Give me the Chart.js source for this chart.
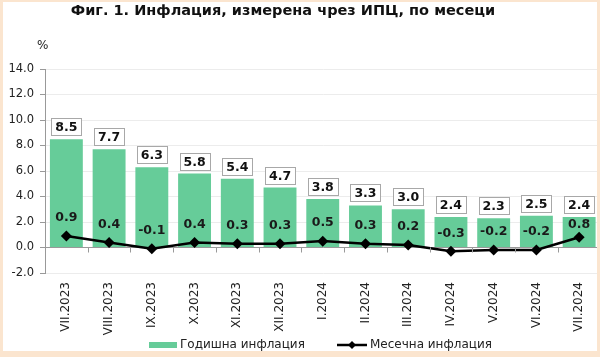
<!DOCTYPE html>
<html>
<head>
<meta charset="utf-8">
<script src="https://cdn.jsdelivr.net/npm/chart.js@4"></script>
<style>
  html, body { margin: 0; padding: 0; background: #fff; }
  #wrap { position: relative; width: 600px; height: 357px; overflow: hidden; background: #fff; }
  #c { position: absolute; left: 0; top: 0; }
  #title { position: absolute; left: 0; top: 2px; width: 566px; text-align: center;
           font: bold 14.5px "DejaVu Sans", Verdana, sans-serif; color: #111; line-height: 17px; }
  #pct { position: absolute; left: 37px; top: 38px; font: 12px "DejaVu Sans", sans-serif; color: #222; }
  #frame { position: absolute; left: 0; top: 0; width: 600px; height: 357px; box-sizing: border-box;
           border-left: 3px solid #FBE5CF; border-right: 3px solid #FBE5CF;
           border-top: 2px solid #FBE5CF; border-bottom: 6px solid #FBE5CF; pointer-events: none; }
</style>
</head>
<body>
<div id="wrap">
  <canvas id="c" width="606" height="357"></canvas>
  <div id="title">Фиг. 1. Инфлация, измерена чрез ИПЦ, по месеци</div>
  <div id="pct">%</div>
  <div id="frame"></div>
</div>
<script>
const categories = ["VII.2023","VIII.2023","IX.2023","X.2023","XI.2023","XII.2023","I.2024","II.2024","III.2024","IV.2024","V.2024","VI.2024","VII.2024"];
const annualInflation = [8.5, 7.7, 6.3, 5.8, 5.4, 4.7, 3.8, 3.3, 3.0, 2.4, 2.3, 2.5, 2.4];
const monthlyInflation = [0.9, 0.4, -0.1, 0.4, 0.3, 0.3, 0.5, 0.3, 0.2, -0.3, -0.2, -0.2, 0.8];
const seriesNames = ["Годишна инфлация", "Месечна инфлация"];
const yTicks = { min: -2, max: 14, step: 2 };

const GREEN = '#66CC99';
const FONT = '"DejaVu Sans", Verdana, sans-serif';

const labelPlugin = {
  id: 'labels',
  afterDatasetsDraw(chart) {
    const ctx = chart.ctx;
    const area = chart.chartArea;
    const y0 = chart.scales.y.getPixelForValue(0);
    const n = categories.length;
    const w = (area.right - area.left) / n;
    ctx.save();
    ctx.strokeStyle = '#999';
    ctx.lineWidth = 1;
    for (let i = 1; i < n; i++) {
      const x = Math.round(area.left + i * w) + 0.5;
      ctx.beginPath(); ctx.moveTo(x, y0); ctx.lineTo(x, y0 + 5); ctx.stroke();
    }
    const barMeta = chart.getDatasetMeta(1);
    ctx.font = 'bold 12.5px ' + FONT;
    ctx.textAlign = 'center';
    ctx.textBaseline = 'middle';
    barMeta.data.forEach((el, i) => {
      const bx = el.x, by = el.y;
      const bw = 30, bh = 17;
      const top = Math.round(by - 4 - bh) + 0.5;
      const left = Math.round(bx - bw / 2) + 0.5;
      ctx.fillStyle = '#fff';
      ctx.fillRect(left, top, bw, bh);
      ctx.strokeStyle = '#a8a8a8';
      ctx.strokeRect(left, top, bw, bh);
      ctx.fillStyle = '#111';
      ctx.fillText(annualInflation[i].toFixed(1), bx, top + bh / 2 + 0.5);
    });
    const lineMeta = chart.getDatasetMeta(0);
    lineMeta.data.forEach((el, i) => {
      const barTop = barMeta.data[i].y;
      const ly = Math.max(el.y - 18, barTop + 8);
      ctx.fillStyle = '#1a1a1a';
      ctx.fillText(monthlyInflation[i].toFixed(1), el.x, ly);
    });
    ctx.restore();
  },
  afterDraw(chart) {
    const ctx = chart.ctx;
    ctx.save();
    const ly = 345;
    ctx.fillStyle = GREEN;
    ctx.fillRect(149, ly - 3, 28, 6);
    ctx.font = '12px ' + FONT;
    ctx.textBaseline = 'middle';
    ctx.textAlign = 'left';
    ctx.fillStyle = '#222';
    ctx.fillText(seriesNames[0], 180, ly);
    ctx.strokeStyle = '#000';
    ctx.lineWidth = 2.5;
    ctx.beginPath(); ctx.moveTo(337, ly); ctx.lineTo(367, ly); ctx.stroke();
    ctx.fillStyle = '#000';
    ctx.beginPath();
    ctx.moveTo(352, ly - 4); ctx.lineTo(356, ly); ctx.lineTo(352, ly + 4); ctx.lineTo(348, ly); ctx.closePath(); ctx.fill();
    ctx.fillStyle = '#222';
    ctx.fillText(seriesNames[1], 370, ly);
    ctx.restore();
  }
};

new Chart(document.getElementById('c'), {
  data: {
    labels: categories,
    datasets: [
      {
        type: 'line', label: seriesNames[1], data: monthlyInflation, order: 0,
        borderColor: '#000', backgroundColor: '#000', borderWidth: 2.5,
        pointStyle: 'rectRot', pointRadius: 5.5, pointBackgroundColor: '#000', pointBorderWidth: 0,
        tension: 0
      },
      {
        type: 'bar', label: seriesNames[0], data: annualInflation, order: 1,
        backgroundColor: GREEN, borderWidth: 0,
        barPercentage: 0.77, categoryPercentage: 1.0
      }
    ]
  },
  options: {
    responsive: false,
    animation: false,
    devicePixelRatio: 1,
    layout: { padding: { left: 0, right: 4, top: 69, bottom: 0 } },
    plugins: { legend: { display: false }, title: { display: false }, tooltip: { enabled: false } },
    scales: {
      x: {
        offset: true,
        grid: { display: false, drawTicks: false },
        border: { display: false },
        ticks: { minRotation: 90, maxRotation: 90, padding: 9, color: '#222',
                 font: { family: FONT, size: 12 }, autoSkip: false },
        afterFit(scale) { scale.height = 84; }
      },
      y: {
        min: yTicks.min, max: yTicks.max,
        grid: {
          color: (c) => (c.tick && c.tick.value === 0) ? '#999' : '#ececec',
          tickColor: '#999', tickLength: 5, drawTicks: true
        },
        border: { display: true, color: '#999' },
        ticks: { stepSize: yTicks.step, padding: 6, color: '#222',
                 font: { family: FONT, size: 11.5 },
                 callback: (v) => Number(v).toFixed(1) },
        afterFit(scale) { scale.width = 45; }
      }
    }
  },
  plugins: [labelPlugin]
});
</script>
</body>
</html>
